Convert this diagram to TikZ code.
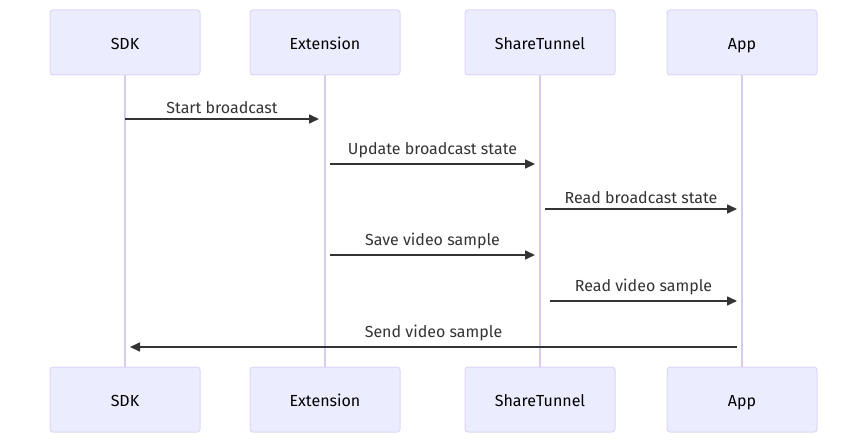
\documentclass[tikz,border=0pt]{standalone}
\usepackage{fontspec}
\setmainfont{Fira Sans}
\usetikzlibrary{arrows.meta}

\definecolor{actfill}{HTML}{ECECFF}
\definecolor{actline}{HTML}{DCD6F6}
\definecolor{lifeln}{HTML}{D8CCEE}
\definecolor{msgcol}{HTML}{333333}

\tikzset{
  actor/.style={draw=actline,fill=actfill,line width=1pt,rounded corners=3pt,
    minimum width=150pt,minimum height=65pt,inner sep=0pt,
    text height=13.5pt,text depth=0pt,
    font=\fontsize{16}{18}\selectfont,text=black},
  life/.style={draw=lifeln,line width=1.5pt},
  msg/.style={draw=msgcol,line width=1.6pt,-{Triangle[length=10pt,width=9pt]}},
  msglbl/.style={above=1.5pt,font=\fontsize{16}{18}\selectfont,text=msgcol}
}

\begin{document}
\begin{tikzpicture}[x=1pt,y=-1pt]
\useasboundingbox (0,0) rectangle (867,443);

% lifelines
\foreach \Xc/\Nm in {125/sdk,325/ext,540/tun,742/app}
{
  \draw[life] (\Xc,75) -- (\Xc,367);
}

% actor boxes, top and bottom
\foreach \Xc/\Nm/\Texto in {125/sdk/SDK,325/ext/Extension,540/tun/ShareTunnel,742/app/App}
{
  \node[actor] (\Nm-top) at (\Xc,42.5) {\Texto};
  \node[actor] (\Nm-bot) at (\Xc,399.5) {\Texto};
}

% messages
\foreach \Xa/\Xb/\Yc/\Texto in {125/319/119/Start broadcast,
  330/535/164/Update broadcast state,
  545/737/209/Read broadcast state,
  330/535/255/Save video sample,
  550/737/301/Read video sample,
  737/130/347/Send video sample}
{
  \coordinate (from-\Yc) at (\Xa,\Yc);
  \coordinate (to-\Yc) at (\Xb,\Yc);
  \draw[msg] (from-\Yc) -- (to-\Yc)
    node[midway,msglbl] {\Texto};
}
\end{tikzpicture}
\end{document}
